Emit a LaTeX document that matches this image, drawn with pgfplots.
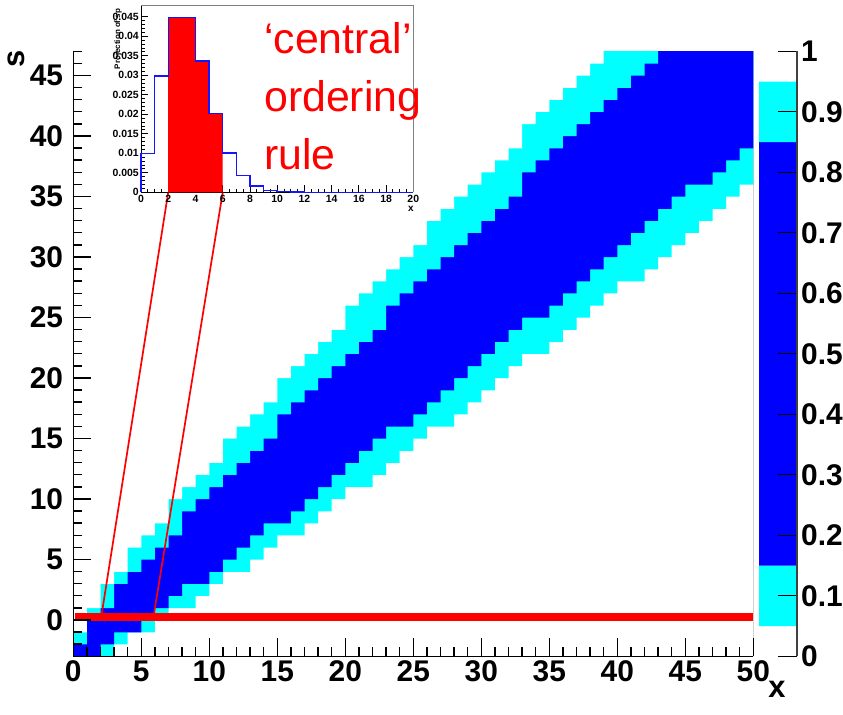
\documentclass[border=0pt]{standalone}
\usepackage{fontspec}
\setmainfont{Liberation Sans}
\usepackage{pgfplots}
\usepackage{pgfplotstable}
\pgfplotsset{compat=1.18}
\definecolor{rcyan}{RGB}{0,255,255}
\definecolor{rblue}{RGB}{0,0,255}
\definecolor{rred}{RGB}{255,0,0}
\definecolor{hblue}{RGB}{20,20,255}

% each row of the band: s = row centre, cell edges in x
\pgfplotstableread{
s L05 L15 U85 U95
-2.5 0 0 2 3
-1.5 0 1 3 4
-0.5 1 1 5 6
0.5 1 2 6 7
1.5 2 3 7 9
2.5 2 3 8 10
3.5 3 4 10 11
4.5 4 5 11 13
5.5 4 6 12 14
6.5 5 7 13 15
7.5 6 8 14 17
8.5 7 8 16 18
9.5 7 9 17 19
10.5 8 10 18 20
11.5 9 11 19 22
12.5 10 12 20 23
13.5 11 13 21 24
14.5 11 14 22 25
15.5 12 15 23 26
16.5 13 15 25 28
17.5 14 16 26 29
18.5 15 17 27 30
19.5 15 18 28 31
20.5 16 19 29 32
21.5 17 20 30 33
22.5 18 21 31 35
23.5 19 22 32 36
24.5 20 23 33 37
25.5 20 23 35 38
26.5 21 24 36 39
27.5 22 25 37 40
28.5 23 26 38 42
29.5 24 27 39 43
30.5 25 28 40 44
31.5 26 29 41 45
32.5 26 30 42 46
33.5 27 31 43 47
34.5 28 32 44 48
35.5 29 33 45 49
36.5 30 33 47 50
37.5 31 34 48 50
38.5 32 35 49 50
39.5 33 36 50 50
40.5 33 37 50 50
41.5 34 38 50 50
42.5 35 39 50 50
43.5 36 40 50 50
44.5 37 41 50 50
45.5 38 42 50 50
46.5 39 43 50 50
}\band

\begin{document}
\begin{tikzpicture}
\useasboundingbox (0bp,0bp) rectangle (843bp,715bp);

% ---------------- main axis ----------------
\begin{axis}[
  at={(73.3bp,58.7bp)}, anchor=south west, scale only axis,
  width=680bp, height=605bp,
  xmin=0, xmax=50, ymin=-3, ymax=47,
  axis on top,
  axis x line*=bottom, axis y line*=left,
  axis line style={-, black, line width=1.4bp},
  xtick={0,5,...,50}, minor xtick={0,...,50},
  ytick={0,5,...,45}, minor ytick={-3,...,47},
  tick align=inside, major tick length=18bp, minor tick length=9bp,
  tick style={black, line width=1.4bp},
  /pgf/number format/assume math mode=true,
  xticklabel style={font=\bfseries\fontsize{30}{32}\selectfont, inner sep=0pt, anchor=north, yshift=-4bp},
  yticklabel style={font=\bfseries\fontsize{30}{32}\selectfont, inner sep=0pt, anchor=east, xshift=-10bp},
]
\addplot[xbar, bar width=1.03, bar shift=0, draw=none, fill=rcyan] table[x=U95, y=s] {\band};
\addplot[xbar, bar width=1.03, bar shift=0, draw=none, fill=rblue] table[x=U85, y=s] {\band};
\addplot[xbar, bar width=1.03, bar shift=0, draw=none, fill=rcyan] table[x=L15, y=s] {\band};
\addplot[xbar, bar width=1.03, bar shift=0, draw=none, fill=white] table[x=L05, y=s] {\band};
\addplot[gray, line width=1.2bp] coordinates {(50,-3) (50,47)};
\addplot[rred, line width=8bp] coordinates {(0.13,0.27) (50,0.27)};
\addplot[rred, line width=1.7bp] coordinates {(6.98,35.35) (2.09,0.5)};
\addplot[rred, line width=1.7bp] coordinates {(10.99,35.35) (5.93,0.5)};
\end{axis}

% ---------------- inset ----------------
\begin{axis}[
  at={(141bp,522.7bp)}, anchor=south west, scale only axis,
  width=272.3bp, height=187.3bp,
  xmin=0, xmax=20, ymin=0, ymax=0.048,
  clip=false,
  axis x line*=bottom, axis y line*=left,
  axis line style={-, black, line width=0.9bp},
  xtick={0,2,...,20}, minor x tick num=3,
  ytick={0,0.005,0.01,0.015,0.02,0.025,0.03,0.035,0.04,0.045},
  minor y tick num=4,
  tick align=inside, major tick length=7bp, minor tick length=3.5bp,
  tick style={black, line width=0.8bp},
  scaled y ticks=false,
  /pgf/number format/assume math mode=true,
  yticklabel style={/pgf/number format/fixed, /pgf/number format/precision=3,
    font=\bfseries\fontsize{10.5}{12}\selectfont, inner sep=0pt, anchor=east, xshift=-2bp},
  xticklabel style={font=\bfseries\fontsize{10.5}{12}\selectfont, inner sep=0pt, anchor=north, yshift=-2.5bp},
]
\addplot[draw=none, fill=rred, const plot] coordinates {(2,0.0448) (3,0.0448) (4,0.0336) (5,0.0202) (6,0.0202)} \closedcycle;
\addplot[hblue, line width=1.4bp, const plot] coordinates {
 (0,0) (0,0.0100) (1,0.0298) (2,0.0448) (3,0.0448) (4,0.0336) (5,0.0202)
 (6,0.0101) (7,0.0043) (8,0.0016) (9,0.0005) (10,0.0002) (11,0.00005) (12,0) (20,0)};
\addplot[gray, line width=0.8bp] coordinates {(0,0.048) (20,0.048) (20,0)};
\end{axis}

% ---------------- colour bar ----------------
\begin{axis}[
  at={(759bp,58.7bp)}, anchor=south west, scale only axis,
  width=38bp, height=605bp,
  xmin=0, xmax=1, ymin=0, ymax=1,
  axis on top,
  axis x line=none, axis y line*=right,
  axis line style={-, black!75, line width=1.4bp},
  ytick={0,0.1,0.2,0.3,0.4,0.5,0.6,0.7,0.8,0.9,1},
  tick align=inside, major tick length=19bp,
  tick style={black, line width=1.4bp},
  /pgf/number format/assume math mode=true,
  yticklabel style={font=\bfseries\fontsize{30}{32}\selectfont, inner sep=0pt, anchor=west, xshift=4bp},
]
\addplot[draw=none, fill=rcyan] coordinates {(0,0.05) (1,0.05) (1,0.15) (0,0.15) (0,0.05)};
\addplot[draw=none, fill=rblue] coordinates {(0,0.15) (1,0.15) (1,0.85) (0,0.85) (0,0.15)};
\addplot[draw=none, fill=rcyan] coordinates {(0,0.85) (1,0.85) (1,0.95) (0,0.95) (0,0.85)};
\end{axis}

% ---------------- titles and text ----------------
\node[inner sep=0pt] at (777bp,26bp) {\bfseries\fontsize{31}{32}\selectfont x};
\node[inner sep=0pt, rotate=90] at (16bp,656bp) {\bfseries\fontsize{31}{32}\selectfont s};
\node[inner sep=0pt] at (411bp,506bp) {\bfseries\fontsize{10}{12}\selectfont x};
\node[inner sep=0pt, rotate=90] at (118bp,676bp) {\bfseries\fontsize{8}{10}\selectfont Projection of sp};
\node[inner sep=0pt, anchor=base west, text=rred] at (264bp,661.7bp) {\fontsize{43}{43}\selectfont ‘central’};
\node[inner sep=0pt, anchor=base west, text=rred] at (264bp,603.3bp) {\fontsize{43}{43}\selectfont ordering};
\node[inner sep=0pt, anchor=base west, text=rred] at (264bp,545bp) {\fontsize{43}{43}\selectfont rule};
\end{tikzpicture}
\end{document}
